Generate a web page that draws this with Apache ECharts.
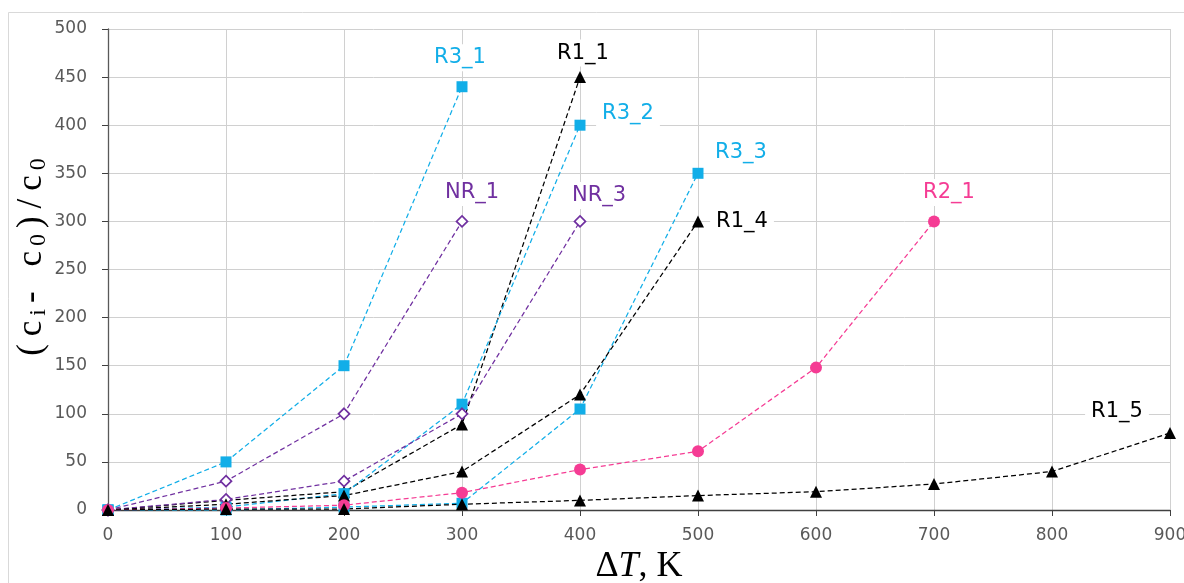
<!DOCTYPE html>
<html>
<head>
<meta charset="utf-8">
<script src="https://cdn.jsdelivr.net/npm/echarts@6/dist/echarts.min.js"></script>
<style>html,body{margin:0;padding:0;background:#fff;width:100%;height:100%;overflow:hidden}#c{width:100%;height:100%}</style>
</head>
<body>
<div id="c"></div>
<script>
// Temperature difference ΔT, K (x positions of points)
const xValues = [0, 100, 200, 300, 400, 500, 600, 700, 800, 900];
// (ci - c0)/c0 values per series, starting at ΔT = 0
const R3_1 = [0, 50, 150, 440];
const NR_1 = [0, 30, 100, 300];
const R1_1 = [0, 10, 19, 89, 450];
const R3_2 = [0, 3, 17, 110, 400];
const NR_3 = [0, 11, 30, 100, 300];
const R3_3 = [0, 0, 3, 7, 105, 350];
const R1_4 = [0, 6, 15, 40, 120, 300];
const R2_1 = [0, 2, 5, 18, 42, 61, 148, 300];
const R1_5 = [0, 1, 1, 6, 10, 15, 19, 27, 40, 80];
const xTicks = [0, 100, 200, 300, 400, 500, 600, 700, 800, 900];
const yTicks = [0, 50, 100, 150, 200, 250, 300, 350, 400, 450, 500];

const CYAN = '#12aee8', PURPLE = '#7030a0', PINK = '#f53c94', BLACK = '#000000';

const chart = echarts.init(document.getElementById('c'), null, {renderer: 'canvas'});

const styles = {
  R3_1: {color: CYAN, symbol: 'rect', size: 11, off: [-2, -29]},
  NR_1: {color: PURPLE, symbol: 'diamond', size: 11, open: true, off: [10, -29]},
  R1_1: {color: BLACK, symbol: 'triangle', size: 12, off: [3, -24]},
  R3_2: {color: CYAN, symbol: 'rect', size: 11, off: [48, -12]},
  NR_3: {color: PURPLE, symbol: 'diamond', size: 11, open: true, off: [19, -26]},
  R3_3: {color: CYAN, symbol: 'rect', size: 11, off: [43, -21]},
  R1_4: {color: BLACK, symbol: 'triangle', size: 12, off: [44, 0]},
  R2_1: {color: PINK, symbol: 'circle', size: 12, off: [15, -29]},
  R1_5: {color: BLACK, symbol: 'triangle', size: 12, off: [-53, -21]}
};
const seriesData = {R3_1, NR_1, R1_1, R3_2, NR_3, R3_3, R1_4, R2_1, R1_5};

const series = Object.keys(seriesData).map(name => {
  const st = styles[name];
  const vals = seriesData[name];
  const data = vals.map((v, i) => {
    if (i === vals.length - 1) {
      return {
        value: [xValues[i], v],
        label: {
          show: true, formatter: name, position: 'inside', offset: st.off,
          color: st.color, fontFamily: 'DejaVu Sans', fontSize: 21,
          backgroundColor: '#ffffff', padding: [3, 6]
        }
      };
    }
    return [xValues[i], v];
  });
  return {
    name, type: 'line', data,
    symbol: st.symbol, symbolSize: st.size,
    lineStyle: {color: st.color, width: 1.25, type: [5, 3]},
    itemStyle: st.open ? {color: '#ffffff', borderColor: st.color, borderWidth: 1.7} : {color: st.color},
    label: {show: false},
    z: 3
  };
});

const titleChars = [['a', '('], ['a', 'c'], ['s', 'i'], ['a', '-'], ['a', ' '], ['a', 'c'], ['s', '0'], ['a', ')'], ['a', '/'], ['a', 'c'], ['s', '0']];
const yTitle = titleChars.map(([k, ch]) => '{' + k + '|' + ch + '}').join('');

chart.setOption({
  animation: false,
  backgroundColor: '#ffffff',
  grid: {left: 108, right: 14, top: 29, bottom: 73, containLabel: false, outerBoundsMode: 'none'},
  xAxis: {
    type: 'value', min: xTicks[0], max: xTicks[xTicks.length - 1], interval: 100,
    axisLine: {show: true, lineStyle: {color: '#404040', width: 1.3}},
    axisTick: {show: true, length: 6, lineStyle: {color: '#404040'}},
    axisLabel: {color: '#595959', fontFamily: 'DejaVu Sans', fontSize: 17, margin: 17},
    splitLine: {show: true, lineStyle: {color: '#d0d0d0', width: 1}},
    name: '{a|Δ}{i|T}{a|, K}', nameLocation: 'middle', nameGap: 36,
    nameTextStyle: {
      rich: {
        a: {fontFamily: 'Liberation Serif', fontSize: 36, color: '#000'},
        i: {fontFamily: 'Liberation Serif', fontStyle: 'italic', fontSize: 36, color: '#000'}
      }
    }
  },
  yAxis: {
    type: 'value', min: yTicks[0], max: yTicks[yTicks.length - 1], interval: 50,
    axisLine: {show: true, lineStyle: {color: '#595959', width: 1.3}},
    axisTick: {show: true, length: 6, lineStyle: {color: '#404040'}},
    axisLabel: {color: '#595959', fontFamily: 'DejaVu Sans', fontSize: 17, margin: 21},
    splitLine: {show: true, lineStyle: {color: '#d0d0d0', width: 1}}
  },
  graphic: [
    {type: 'rect', shape: {x: 8.5, y: 12.5, width: 1200, height: 600}, style: {fill: 'none', stroke: '#d9d9d9', lineWidth: 1}, z: -1},
    {
      type: 'text', x: 32, y: 258, rotation: Math.PI / 2,
      style: {
        text: yTitle,
        align: 'center', verticalAlign: 'middle',
        rich: {
          a: {fontFamily: 'Liberation Serif', fontSize: 35, fill: '#000', padding: [0, 4]},
          s: {fontFamily: 'Liberation Serif', fontSize: 24, fill: '#000', padding: [13, 2, 0, 1]}
        }
      }
    }
  ],
  series
});
</script>
</body>
</html>
